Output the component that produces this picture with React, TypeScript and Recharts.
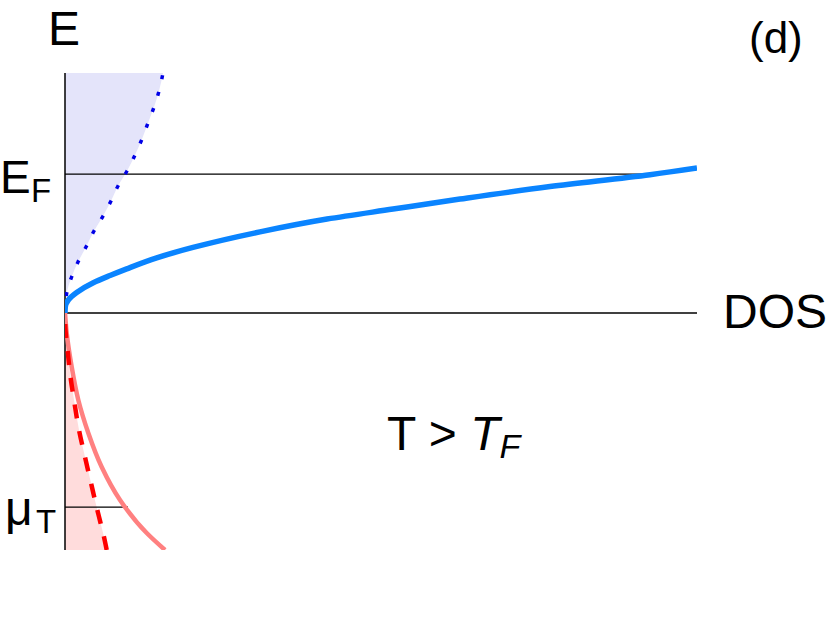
import React from 'react';
import { ComposedChart, Line, Area, XAxis, YAxis, ReferenceLine } from 'recharts';

// energy in units of E_F, DOS in arbitrary units
const eTop = 1.727;
const eBottom = -1.705;
const dosMax = 6.32;
const eF = 1;
const muT = -1.396;
const eFLineEnd = 5.83;
const muTTickEnd = 0.63;

// blue solid: total DOS above the band edge
const dosE = [0, 0.045, 0.094, 0.148, 0.218, 0.27, 0.318, 0.397, 0.472, 0.584, 0.676, 0.748, 0.82, 0.91, 0.995, 1.043];
const dosV = [0, 0.003, 0.033, 0.117, 0.283, 0.45, 0.617, 0.917, 1.28, 1.95, 2.62, 3.28, 3.95, 4.85, 5.85, 6.32];

// blue dotted: occupied states (shaded)
const occE = [0, 0.142, 0.261, 0.367, 0.475, 0.59, 0.698, 0.806, 0.914, 1.022, 1.137, 1.252, 1.367, 1.482, 1.597, 1.727];
const occV = [0, 0.017, 0.067, 0.13, 0.21, 0.29, 0.38, 0.46, 0.53, 0.62, 0.7, 0.77, 0.83, 0.89, 0.94, 0.98];

// red solid: hole DOS below the edge
const holeE = [-1.705, -1.583, -1.345, -1.108, -0.863, -0.626, -0.388, -0.144, 0];
const holeV = [1.0, 0.817, 0.55, 0.367, 0.233, 0.133, 0.067, 0.017, 0];

// red dashed: thermal holes (shaded)
const thE = [-1.705, -1.612, -1.417, -1.223, -1.036, -0.842, -0.626, -0.432, -0.245, -0.122, 0];
const thV = [0.417, 0.39, 0.323, 0.26, 0.2, 0.14, 0.09, 0.05, 0.023, 0.005, 0];

const zip = (es: number[], vs: number[]) => es.map((e, i) => ({ e, dos: vs[i] }));

const dosData = zip(dosE, dosV);
const occData = zip(occE, occV);
const holeData = zip(holeE, holeV);
const thData = zip(thE, thV);

const font = '"Liberation Sans", Arial, sans-serif';

export default function App() {
  return (
    <div style={{ position: 'absolute', left: 0, top: 0, width: 830, height: 620, background: '#fff' }}>
      <ComposedChart
        width={830}
        height={620}
        layout="vertical"
        margin={{ top: 73, right: 133, bottom: 70, left: 65 }}
      >
        <XAxis type="number" dataKey="dos" domain={[0, dosMax]} hide allowDataOverflow />
        <YAxis type="number" dataKey="e" domain={[eBottom, eTop]} hide allowDataOverflow reversed />

        <Area data={occData} dataKey="dos" type="monotone" stroke="none" fill="#e4e4fa" fillOpacity={1} isAnimationActive={false} />
        <Area data={thData} dataKey="dos" type="monotone" stroke="none" fill="#ffdcdc" fillOpacity={1} isAnimationActive={false} />

        <ReferenceLine x={0} stroke="#000" strokeWidth={1.5} />
        <ReferenceLine y={0} stroke="#000" strokeWidth={1.5} />
        <ReferenceLine segment={[{ x: 0, y: eF }, { x: eFLineEnd, y: eF }]} stroke="#000" strokeWidth={1.3} />
        <ReferenceLine segment={[{ x: 0, y: muT }, { x: muTTickEnd, y: muT }]} stroke="#000" strokeWidth={1.3} />

        <Line data={occData} dataKey="dos" type="monotone" stroke="#0000e6" strokeWidth={3.5} strokeDasharray="4 13" dot={false} isAnimationActive={false} />
        <Line data={holeData} dataKey="dos" type="monotone" stroke="#ff8080" strokeWidth={4.5} dot={false} isAnimationActive={false} />
        <Line data={thData} dataKey="dos" type="monotone" stroke="#ff0000" strokeWidth={4.5} strokeDasharray="14 13" dot={false} isAnimationActive={false} />
        <Line data={dosData} dataKey="dos" type="monotone" stroke="#0a84ff" strokeWidth={5.5} dot={false} isAnimationActive={false} />
      </ComposedChart>

      <svg width={830} height={620} style={{ position: 'absolute', left: 0, top: 0, pointerEvents: 'none' }}>
        <g fontFamily={font} fill="#000">
          <text x={48} y={45} fontSize={48}>E</text>
          <text x={0} y={193} fontSize={46}>E</text>
          <text x={31} y={202} fontSize={33}>F</text>
          <text x={5} y={525} fontSize={48}>μ</text>
          <text x={36} y={533} fontSize={33}>T</text>
          <text x={749} y={53} fontSize={44}>(d)</text>
          <text x={723} y={328} fontSize={48}>DOS</text>
          <text x={387} y={450} fontSize={48}>
            T &gt; <tspan fontStyle="italic">T</tspan>
            <tspan fontStyle="italic" fontSize={34} dy={8}>F</tspan>
          </text>
        </g>
      </svg>
    </div>
  );
}
